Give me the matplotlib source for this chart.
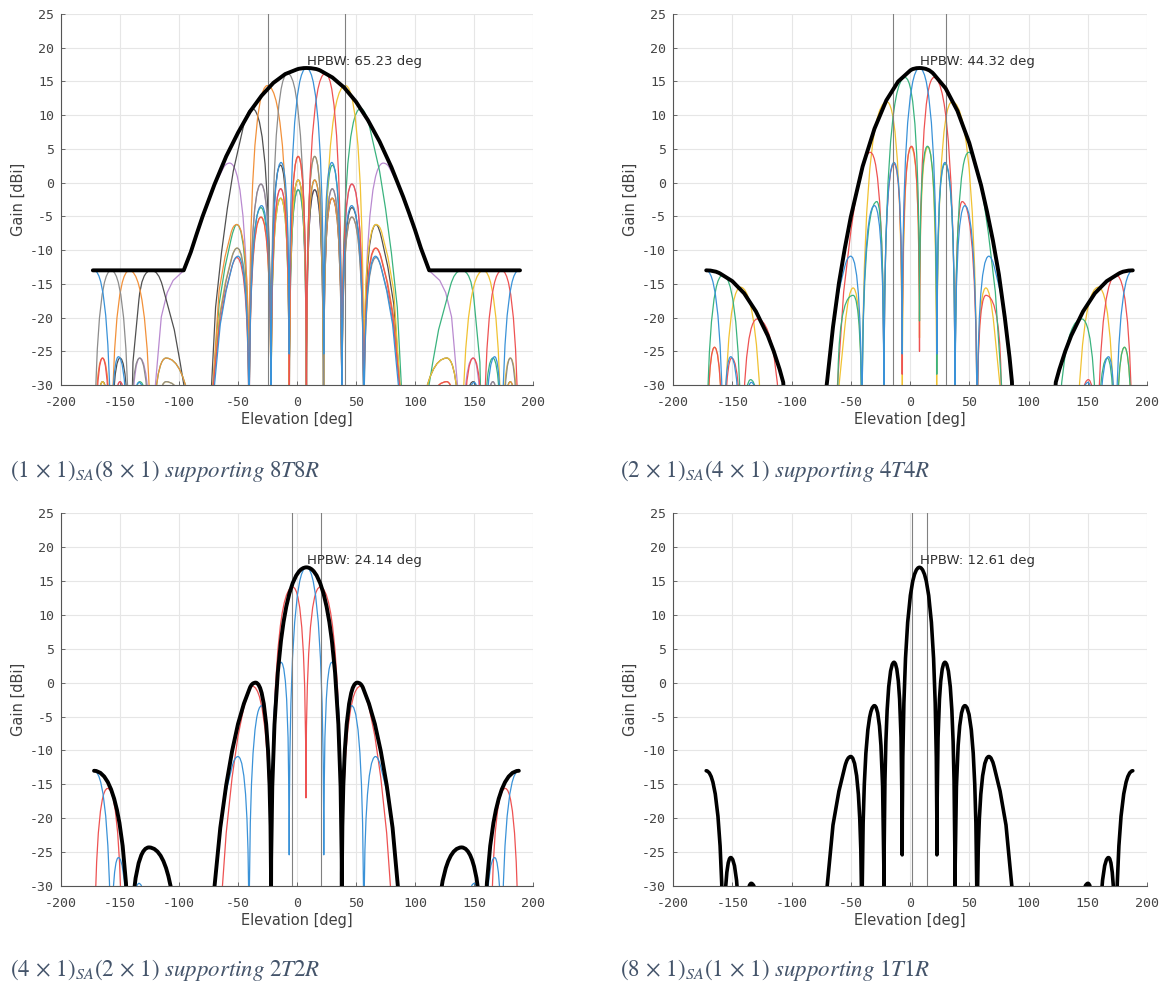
import matplotlib
matplotlib.use("Agg")
import matplotlib.pyplot as plt
from matplotlib.path import Path
from matplotlib.patches import PathPatch

plt.rcParams['axes.unicode_minus'] = False
plt.rcParams['mathtext.fontset'] = 'stix'

# ---------------- data ----------------
# nodes are nulls / peaks / shoulder points of each pattern (deg, dBi);
# nulls sit below the -30 dBi floor, None breaks a curve

# broadside beam of the full 8-element column (blue in panels 1-3, black in panel 4)
beam0_x = [-172, -157.5, -151.3, -142, -134, -123.4, None, -71, -65, -60, -55, -50, -40.6, -30, -22,
           -13.5, -6.6, 8, 22.7, 29.5, 38, 46.3, 56.6, 66.5, 71, 76, 81, 87, None,
           139.4, 150.2, 158, 167.5, 173.5, 188]
beam0_y = [-13, -48, -25.8, -60, -29.6, -60, None, -32, -21, -16, -12.4, -10.9, -40, -3.4, -34,
           3.0, -25.4, 17, -25.4, 3.0, -34, -3.4, -40, -10.9, -12.4, -16, -21, -32, None,
           -60, -29.6, -60, -25.8, -48, -13]

# panel 1: (1x1)SA (8x1), eight beams + element envelope
env1_x = [-173, -96, -90, -85, -80, -70, -60, -50, -40, -30, -20, -10, 0, 8,
          20, 30, 40, 50, 60, 70, 80, 90, 95, 100, 105, 112, 189]
env1_y = [-13, -13, -10.3, -7.6, -5.0, -0.3, 3.9, 7.4, 10.5, 12.9, 14.8, 16.1, 16.8, 17.0,
          16.6, 15.6, 14.1, 12.0, 9.3, 6.1, 2.3, -2.1, -4.5, -7.0, -9.7, -13, -13]

red1_x = [-172, -164.8, -157.5, -150, -142, None, -72, -66, -61, -56, -51, -40.6, -30.5, -22,
          -13.8, -6.5, 1, 8, 24, 38, 46.5, 56.6, 66.5, 71, 76, 81, 88, None,
          98, 127, 139.4, 149.3, 158, 173.5, 188]
red1_y = [-60, -26, -60, -29.5, -60, None, -32, -21.5, -16.5, -13, -11.1, -40, -5.1, -36,
          -0.9, -34, 3.9, -32, 16.2, -32, -0.2, -38, -9.7, -11, -14.5, -19.5, -32, None,
          -60, -29.5, -60, -26, -50, -13, -50]

gray1_x = [-172, -157.5, -142, -133.3, -123.4, -111, -82, None, -72, -65, -60, -55, -50.5, -40.6,
           -30.5, -22, -8, 8, 15, 22.5, 29.8, 38, 46.5, 56.6, 67, 72, 77, 82, 88, None,
           158, 166, 173.5, 180.8, 188]
gray1_y = [-50, -13, -50, -26, -60, -29.5, -60, None, -32, -19.5, -14.5, -11, -9.7, -38,
           -0.2, -32, 16.2, -32, 3.9, -34, -0.9, -36, -5.1, -40, -11.1, -13, -16.5, -21.5, -32, None,
           -60, -29.5, -60, -26, -60]

yellow1_x = [-172, -164.8, -157.5, None, -123.4, -111, -82, None, -72, -66, -61, -56, -51, -40.6,
             -30.5, -22, -13.8, -6.5, 1, 8, 15, 22.5, 41, 56.6, 67, 72, 77, 82, 88, None,
             98, 127, 139.4, 158, 173.5, 180.8, 188]
yellow1_y = [-60, -29.5, -60, None, -60, -29.5, -60, None, -32, -20, -15, -11.5, -9.7, -38,
             -5.1, -36, -2.3, -34, 0.4, -32, 3.9, -32, 14.4, -32, -6.2, -7.5, -11, -16, -32, None,
             -60, -26, -50, -13, -50, -26, -50]

orange1_x = [-172, -164.8, -157.5, -142, -123.4, -111, -82, None, -72, -66, -61, -56, -51, -40.6,
             -25, -6.5, 1, 8, 15, 22.5, 29.8, 38, 46.5, 56.6, 67, 72, 77, 82, 88, None,
             98, 127, 139.4, None, 173.5, 180.8, 188]
orange1_y = [-50, -26, -50, -13, -50, -26, -60, None, -32, -16, -11, -7.5, -6.2, -32,
             14.4, -32, 3.9, -32, 0.4, -34, -2.3, -36, -5.1, -38, -9.7, -11.5, -15, -20, -32, None,
             -60, -29.5, -60, None, -60, -29.5, -60]

green1_x = [-142, -133.3, -123.4, -111, -82, None, -72, -66, -61, -56, -51, -40.6, -30.5, -22,
            -13.8, -6.5, 1, 8, 15, 22.5, 30, 38, 54, 62, 70, 75, 80, 85, 89, None,
            110, 115, 120, 130, 139.4, 150, 155, 158, 166, 173.5, 180.8, 188]
green1_y = [-60, -29.5, -50, -26, -60, None, -32, -18, -12.5, -8.5, -6.2, -38, -3.7, -36,
            -2.3, -34, -1.05, -32, 0.4, -34, 2.6, -32, 11, 7.9, 1.7, -3.8, -10.4, -18.5, -32, None,
            -32, -26.7, -21.8, -15.3, -13, -17.4, -26.6, -50, -26, -50, -29.5, -60]

dark1_x = [-172, -164.8, -157.5, -150, -142, -139, -134, -123.4, -114, -104, -99, -94, None,
           -73, -69, -64, -59, -54, -46, -38, -22, -14, -6.5, 1, 8, 15, 22.5, 29.8, 38, 46.5,
           56.6, 67, 72, 77, 82, 88, None, 98, 127, 139.4, 149.3, 158]
dark1_y = [-60, -29.5, -50, -26, -50, -26.6, -17.4, -13, -15.3, -21.8, -26.7, -32, None,
           -32, -18.5, -10.4, -3.8, 1.7, 7.9, 11, -32, 2.6, -34, 0.4, -32, -1.05, -34, -2.3, -36, -3.7,
           -38, -6.2, -8.5, -12.5, -18, -32, None, -60, -26, -50, -29.5, -60]

purple1_x = [-157.5, -150, -142, -133.3, -123.4, None, -121, -115, -110, -105, -97, -90, -82,
             -70, -62, -57, -40.6, -30.5, -22, -13.8, -6.5, 1, 8, 15, 22.5, 30, 38, 46.5, 56.6,
             73, 78, 86, 98, 106, 113, 121, 126, 131, 137, None, 139.4, 149.3, 158, 166, 173.5]
purple1_y = [-60, -29.5, -60, -26, -50, None, -32, -19.9, -16.3, -14.5, -13.2, -10.4, -6,
             -0.4, 2.3, 2.9, -38, -0.2, -34, -0.9, -34, -1.05, -32, -1.05, -34, -0.9, -36, -0.2, -38,
             2.9, 2.3, -0.4, -6, -10.4, -13.2, -14.5, -16.3, -19.9, -32, None, -50, -26, -60, -29.5, -60]

# panel 2: (2x1)SA (4x1), four beams + subarray envelope
env2_x = [-172, -160, -150, -140, -130, -120, -115, -110, -107, -106.5, None,
          -71.2, -70, -65, -60, -55, -50, -40, -30, -20, -10, 0, 8, 20, 30, 40, 50, 60, 65,
          70, 75, 80, 84, 86, 86.3, None,
          122.5, 123, 126, 131, 136, 146, 156, 166, 176, 188]
env2_y = [-13, -13.5, -14.6, -16.4, -19.1, -22.7, -25.0, -27.7, -29.6, -31, None,
          -31, -29.5, -21.4, -14.9, -9.7, -5.1, 2.4, 8.0, 12.2, 15.0, 16.6, 17.0, 16.1, 14.0, 10.65,
          5.9, -0.4, -4.3, -8.6, -13.6, -20.0, -25.9, -29.5, -31, None,
          -31, -29.6, -27.7, -25.0, -22.7, -19.1, -16.4, -14.6, -13.5, -13]

red2_x = [-172, -165, -157.5, -150.5, -142, -129, -108, None, -62, -56, -50, -45, -40, -33.5, -22,
          -13.5, -6.6, 1.3, 8, 20.2, 38, 44, 56.6, 64, 77, None, 139.4, 150.5, 158, 174, 188]
red2_y = [-55, -24.4, -55, -26, -50, -20.2, -50, None, -32, -16.2, -7.3, -1.2, 2.4, 4.5, -34,
          2.8, -28.4, 5.4, -25, 15.6, -34, -2.8, -40, -16.7, -32, None, -60, -29.2, -50, -13.7, -50]

green2_x = [-172, -158, -142, -134.5, -123.4, None, -61, -48, -40.6, -28, -22, -4.2, 8, 14.7, 22.6,
            29.5, 38, 49.5, 56, 61, 66, 72, 78, None, 124, 145, 158, 166.5, 173.5, 181, 188]
green2_y = [-50, -13.7, -50, -29.2, -60, None, -32, -16.7, -40, -2.8, -34, 15.6, -20.5, 5.4, -28.4,
            2.8, -34, 4.5, 2.4, -1.2, -7.3, -16.2, -32, None, -50, -20.2, -50, -26, -55, -24.4, -55]

yellow2_x = [-172, -165, -157.5, -143, -123.4, None, -61, -55, -48, -40.6, -19.5, -6.5, 0.8, 8, 15.2,
             22.5, 35.5, 56.6, 64, 71, 77, None, 139.4, 159, 173.5, 181, 188]
yellow2_y = [-55, -24.4, -55, -15.5, -60, None, -32, -21.4, -15.6, -40, 12.0, -34, 5.3, -23, 5.3,
             -34, 12.0, -40, -15.6, -21.4, -32, None, -60, -15.5, -55, -24.4, -55]

# panel 3: (4x1)SA (2x1), two beams + subarray envelope
env3_x = [-172, -142, -125.5, -100, None, -71, -65, -60, -55, -50, -45, -40, -35, -22, 8, 38,
          51, 56, 61, 66, 71, 76, 81, 86.5, None, 116, 139.5, 158, 188]
env3_y = [-13, -48, -24.3, -50, None, -32, -21.4, -15.1, -10.1, -6.1, -3.1, -0.8, 0, -32, 17, -32,
          0, -0.8, -3.1, -6.1, -10.1, -15.1, -21.4, -32, None, -50, -24.3, -48, -13]

red3_x = [-172, -160.5, -148, None, -142, -125.5, -100, None, -64, -60, -55, -50, -45, -40, -38,
          -22, -3.6, 7.6, 19.6, 38, 54, 56, 61, 66, 71, 76, 80, None,
          116, 139.5, 158, None, 164, 176.5, 188]
red3_y = [-50, -15.6, -50, None, -48, -24.3, -50, None, -32, -22.2, -14, -7.9, -3.6, -0.8, -0.5,
          -34, 14.1, -17, 14.1, -34, -0.5, -0.8, -3.6, -7.9, -14, -22.2, -32, None,
          -50, -24.3, -48, None, -50, -15.6, -50]

# half-power beam widths and their markers
hpbw_text = ["65.23", "44.32", "24.14", "12.61"]
hpbw_left = [-24.6, -14.2, -4.1, 1.7]
hpbw_right = [40.6, 30.2, 20.1, 14.3]

captions = [r"$(1\,\times\,1)_{SA}(8\,\times\,1)\ \mathit{supporting\ 8T8R}$",
            r"$(2\,\times\,1)_{SA}(4\,\times\,1)\ \mathit{supporting\ 4T4R}$",
            r"$(4\,\times\,1)_{SA}(2\,\times\,1)\ \mathit{supporting\ 2T2R}$",
            r"$(8\,\times\,1)_{SA}(1\,\times\,1)\ \mathit{supporting\ 1T1R}$"]

BLUE, ORANGE, YELLOW, PURPLE = '#3a92d8', '#f2913a', '#f1c232', '#b98ad0'
GREEN, RED, GRAY, DARK = '#3ab37e', '#ee5252', '#8c8c8c', '#505050'


def add_segment(seg, verts, codes):
    n = len(seg)
    kind = []
    for i in range(n):
        nb = [seg[j][1] for j in (i - 1, i + 1) if 0 <= j < n]
        if all(seg[i][1] > v for v in nb):
            kind.append(1)
        elif all(seg[i][1] < v for v in nb):
            kind.append(-1)
        else:
            kind.append(0)
    verts.append(seg[0])
    codes.append(Path.MOVETO)
    for i in range(1, n):
        a, b = seg[i - 1], seg[i]
        ctrl = None
        if kind[i - 1] * kind[i] == -1:
            # null <-> peak: rounded lobe side
            lo, hi = (a, b) if a[1] < b[1] else (b, a)
            ctrl = (lo[0], hi[1])
        elif kind[i] != 0 and kind[i - 1] == 0 and i >= 2 and a[1] != seg[i - 2][1]:
            p = seg[i - 2]
            cx = a[0] + (b[1] - a[1]) * (a[0] - p[0]) / (a[1] - p[1])
            ctrl = (min(max(cx, min(a[0], b[0])), max(a[0], b[0])), b[1])
        elif kind[i - 1] != 0 and kind[i] == 0 and i + 1 < n and seg[i + 1][1] != b[1]:
            q = seg[i + 1]
            cx = b[0] + (a[1] - b[1]) * (q[0] - b[0]) / (q[1] - b[1])
            ctrl = (min(max(cx, min(a[0], b[0])), max(a[0], b[0])), a[1])
        if ctrl is None:
            verts.append(b)
            codes.append(Path.LINETO)
        else:
            verts += [ctrl, b]
            codes += [Path.CURVE3, Path.CURVE3]


def draw(ax, xs, ys, color, lw=0.9, z=2):
    verts, codes, seg = [], [], []
    for x, y in list(zip(xs, ys)) + [(None, None)]:
        if x is None:
            if len(seg) > 1:
                add_segment(seg, verts, codes)
            seg = []
        else:
            seg.append((x, y))
    ax.add_patch(PathPatch(Path(verts, codes), fill=False, edgecolor=color, lw=lw,
                           zorder=z, joinstyle='round', capstyle='round'))


fig = plt.figure(figsize=(11.64, 9.89), dpi=100)
positions = [[0.0524, 0.6107, 0.4055, 0.3751], [0.5782, 0.6107, 0.4072, 0.3751],
             [0.0524, 0.1041, 0.4055, 0.3771], [0.5782, 0.1041, 0.4072, 0.3771]]
axes = [fig.add_axes(p) for p in positions]

for i, ax in enumerate(axes):
    ax.set_xlim(-200, 200)
    ax.set_ylim(-30, 25)
    ax.set_xticks(range(-200, 201, 50))
    ax.set_yticks(range(-30, 26, 5))
    ax.grid(True, color='#e6e6e6', lw=0.8)
    ax.set_axisbelow(True)
    for s in ['top', 'right']:
        ax.spines[s].set_visible(False)
    for s in ['left', 'bottom']:
        ax.spines[s].set_color('#555555')
        ax.spines[s].set_linewidth(0.8)
    ax.tick_params(direction='in', length=3, width=0.6, color='#555555',
                   labelcolor='#444444', labelsize=9.5)
    ax.tick_params(axis='x', pad=8)
    ax.tick_params(axis='y', pad=5)
    for lab in ax.get_xticklabels() + ax.get_yticklabels():
        lab.set_family('DejaVu Sans Mono')
    ax.set_xlabel('Elevation [deg]', fontsize=10.5, color='#404040', labelpad=2)
    ax.set_ylabel('Gain [dBi]', fontsize=10.5, color='#404040', labelpad=3)
    ax.axvline(hpbw_left[i], color='#808080', lw=0.8, zorder=4)
    ax.axvline(hpbw_right[i], color='#808080', lw=0.8, zorder=4)
    ax.text(8.5, 18.0, 'HPBW: ' + hpbw_text[i] + ' deg', fontsize=9.5, color='#303030',
            ha='left', va='center', zorder=6)

# panel 1
ax = axes[0]
for xs, ys, c in [(purple1_x, purple1_y, PURPLE), (dark1_x, dark1_y, DARK),
                  (green1_x, green1_y, GREEN), (orange1_x, orange1_y, ORANGE),
                  (yellow1_x, yellow1_y, YELLOW), (gray1_x, gray1_y, GRAY),
                  (red1_x, red1_y, RED), (beam0_x, beam0_y, BLUE)]:
    draw(ax, xs, ys, c)
draw(ax, env1_x, env1_y, 'black', lw=2.8, z=5)

# panel 2
ax = axes[1]
for xs, ys, c in [(yellow2_x, yellow2_y, YELLOW), (red2_x, red2_y, RED),
                  (green2_x, green2_y, GREEN), (beam0_x, beam0_y, BLUE)]:
    draw(ax, xs, ys, c)
draw(ax, env2_x, env2_y, 'black', lw=2.8, z=5)

# panel 3
ax = axes[2]
draw(ax, red3_x, red3_y, RED)
draw(ax, beam0_x, beam0_y, BLUE)
draw(ax, env3_x, env3_y, 'black', lw=2.8, z=5)

# panel 4
draw(axes[3], beam0_x, beam0_y, 'black', lw=2.6, z=5)

cap_pos = [(10, 471), (620, 471), (10, 970), (620, 970)]
for (px, py), txt in zip(cap_pos, captions):
    fig.text(px / 1164, 1 - py / 989, txt, fontsize=16.5, color='#44546A', ha='left', va='center')

fig.savefig('out.png', dpi=100)
